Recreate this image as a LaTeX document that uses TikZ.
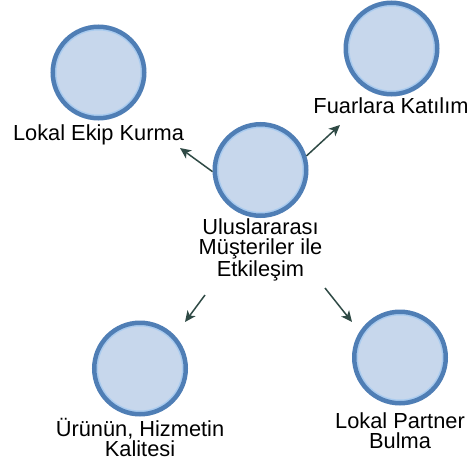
\documentclass[tikz,border=0pt]{standalone}
\usepackage{fontspec}
\setmainfont{Liberation Sans}
\usetikzlibrary{arrows.meta}
\definecolor{ringblue}{HTML}{4F7EB5}
\definecolor{ringlight}{HTML}{A9CBEF}
\definecolor{discfill}{HTML}{C7D7EC}
\definecolor{arrowgray}{HTML}{2F4A45}
\begin{document}
\begin{tikzpicture}[x=1pt,y=-1pt,
  disc/.style={circle,draw=ringblue,line width=4.5pt,fill=discfill,
    minimum size=91.5pt,inner sep=0pt,
    path picture={\draw[ringlight,line width=1.6pt]
      (path picture bounding box.center) circle (42.8pt);}},
  lbl/.style={align=center,inner sep=0pt,font=\fontsize{21.8}{20}\selectfont},
  link/.style={draw=arrowgray,line width=1.5pt,
    -{Stealth[length=11pt,width=10pt,inset=3pt]}}]
  \useasboundingbox (0,0) rectangle (468,471);

  % circles
  \node[disc] (c)  at (260.5,170) {};
  \node[disc] (tl) at (98.5,72.5) {};
  \node[disc] (tr) at (391.5,48.5) {};
  \node[disc] (bl) at (140,368.5) {};
  \node[disc] (br) at (400,357.5) {};

  % labels
  \node[lbl] (cl)  at (260.5,250) {Uluslararası\\Müşteriler ile\\Etkileşim};
  \node[lbl] (tll) at (98.5,135) {Lokal Ekip Kurma};
  \node[lbl] (trl) at (391,106) {Fuarlara Katılım};
  \node[lbl] (bll) at (140,437.5) {Ürünün, Hizmetin\\Kalitesi};
  \node[lbl] (brl) at (400,431) {Lokal Partner\\Bulma};

  % arrow ends
  \coordinate (etl) at (180,148);
  \coordinate (etr) at (340,125);
  \coordinate (sbl) at (205,295);
  \coordinate (ebl) at (185,322);
  \coordinate (sbr) at (325,288);
  \coordinate (ebr) at (352,322);

  % connectors
  \draw[link] (c.182) -- (etl);
  \draw[link] (c.17) -- (etr);
  \draw[link] (sbl) -- (ebl);
  \draw[link] (sbr) -- (ebr);
\end{tikzpicture}
\end{document}
